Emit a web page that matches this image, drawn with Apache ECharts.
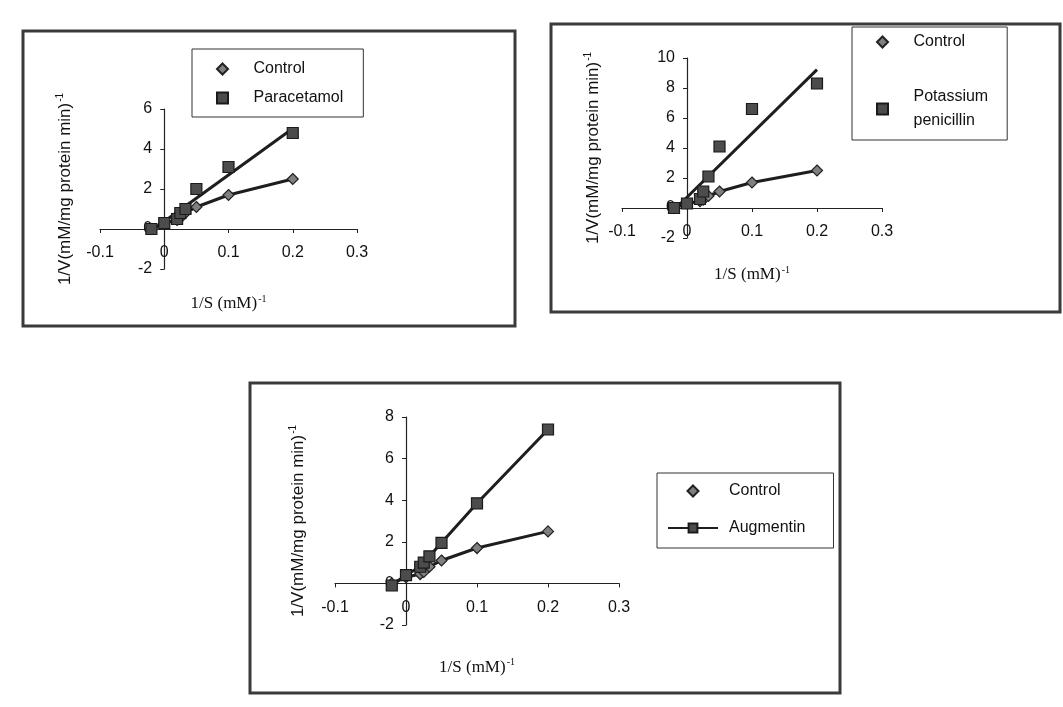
<!DOCTYPE html>
<html>
<head>
<meta charset="utf-8">
<script src="https://cdn.jsdelivr.net/npm/echarts@6/dist/echarts.min.js"></script>
<style>
  html, body { margin: 0; padding: 0; background: #fff; }
  #chart { width: 1063px; height: 707px; }
</style>
</head>
<body>
<div id="chart"></div>
<script>
// 1/S values (mM^-1), shared by every series
var invS = [-0.02, 0, 0.02, 0.025, 0.033, 0.05, 0.1, 0.2];
// 1/V values
var control = [0, 0.3, 0.45, 0.55, 0.8, 1.1, 1.7, 2.5];
var paracetamol = [0, 0.3, 0.5, 0.8, 1.0, 2.0, 3.1, 4.8];
var penicillin = [0, 0.3, 0.6, 1.1, 2.1, 4.1, 6.6, 8.3];
var augmentin = [-0.1, 0.4, 0.8, 1.0, 1.3, 1.95, 3.85, 7.4];

var xTicks = [-0.1, 0.3, 0.1];          // min, max, interval
var yRanges = [[-2, 6], [-2, 10], [-2, 8]];

function pairs(ys) {
  return invS.map(function (x, i) { return [x, ys[i]]; });
}
// least squares trendline over the data range
function trend(ys) {
  var n = invS.length, mx = 0, my = 0, sxx = 0, sxy = 0;
  for (var i = 0; i < n; i++) { mx += invS[i] / n; my += ys[i] / n; }
  for (var j = 0; j < n; j++) {
    sxx += (invS[j] - mx) * (invS[j] - mx);
    sxy += (invS[j] - mx) * (ys[j] - my);
  }
  var b = sxy / sxx, a = my - b * mx;
  var x0 = Math.min.apply(null, invS), x1 = Math.max.apply(null, invS);
  return [[x0, a + b * x0], [x1, a + b * x1]];
}

var grids = [
  { left: 100, top: 109, width: 257, height: 160 },
  { left: 622, top: 58, width: 260, height: 180 },
  { left: 335, top: 417, width: 284, height: 208 }
];
var yGaps = [89, 84, 98];
var xGaps = [65, 57, 74];

var sansFont = 'Liberation Sans';
var serifFont = 'Liberation Serif';

// axes cross at zero: shift each axis from the grid edge to the zero line
var xAxes = grids.map(function (g, i) {
  var yr = yRanges[i];
  return {
    gridIndex: i, type: 'value', min: xTicks[0], max: xTicks[1], interval: xTicks[2],
    offset: -g.height * (0 - yr[0]) / (yr[1] - yr[0]),
    name: '{a|1/S (mM)}{s|-1}', nameLocation: 'middle', nameGap: xGaps[i],
    nameTextStyle: {
      rich: {
        a: { fontFamily: serifFont, fontSize: 17, color: '#111' },
        s: { fontFamily: serifFont, fontSize: 10, color: '#111', padding: [0, 0, 10, 1] }
      }
    },
    axisLine: { onZero: false, lineStyle: { color: '#222', width: 1.2 } },
    axisTick: { length: 4, lineStyle: { color: '#222' } },
    axisLabel: { margin: 16, fontFamily: sansFont, fontSize: 16, color: '#111' },
    splitLine: { show: false }
  };
});
var yAxes = grids.map(function (g, i) {
  return {
    gridIndex: i, type: 'value', min: yRanges[i][0], max: yRanges[i][1], interval: 2,
    offset: -g.width * (0 - xTicks[0]) / (xTicks[1] - xTicks[0]),
    name: '{a|1/V(mM/mg protein min)}{s|-1}', nameLocation: 'middle', nameGap: yGaps[i],
    nameTextStyle: {
      rich: {
        a: { fontFamily: sansFont, fontSize: 17, color: '#111' },
        s: { fontFamily: sansFont, fontSize: 10, color: '#111', padding: [0, 0, 10, 1] }
      }
    },
    axisLine: { onZero: false, lineStyle: { color: '#222', width: 1.2 } },
    axisTick: { length: 4, lineStyle: { color: '#222' } },
    axisLabel: { margin: 12, fontFamily: sansFont, fontSize: 16, color: '#111' },
    splitLine: { show: false }
  };
});

var lineStyle = { color: '#1e1e1e', width: 3 };
var diamondStyle = { color: '#808080', borderColor: '#222', borderWidth: 1.2, opacity: 1 };
var squareStyle = { color: '#4c4c4c', borderColor: '#1a1a1a', borderWidth: 1.2, opacity: 1 };

var diamondIcon = 'path://M5,0L10,5L5,10L0,5Z';
var squareIcon = 'path://M0,0L10,0L10,10L0,10Z';

function controlSeries(i) {
  return {
    name: 'Control', type: 'line', xAxisIndex: i, yAxisIndex: i, data: pairs(control),
    symbol: 'diamond', symbolSize: 11, showAllSymbol: true,
    lineStyle: lineStyle, itemStyle: diamondStyle, z: 3
  };
}
function scatterSeries(name, ys, i) {
  return {
    name: name, type: 'scatter', xAxisIndex: i, yAxisIndex: i, data: pairs(ys),
    symbol: 'rect', symbolSize: 11, itemStyle: squareStyle, z: 4
  };
}
function trendSeries(name, ys, i) {
  return {
    name: name + ' trend', type: 'line', xAxisIndex: i, yAxisIndex: i, data: trend(ys),
    symbol: 'none', lineStyle: lineStyle, z: 2
  };
}

var series = [
  controlSeries(0),
  scatterSeries('Paracetamol', paracetamol, 0),
  trendSeries('Paracetamol', paracetamol, 0),
  controlSeries(1),
  scatterSeries('Potassium penicillin', penicillin, 1),
  trendSeries('Potassium penicillin', penicillin, 1),
  controlSeries(2),
  {
    name: 'Augmentin', type: 'line', xAxisIndex: 2, yAxisIndex: 2, data: pairs(augmentin),
    symbol: 'rect', symbolSize: 11, showAllSymbol: true,
    lineStyle: lineStyle, itemStyle: squareStyle, z: 4
  }
];

var legendBase = {
  orient: 'vertical', backgroundColor: '#fff', borderColor: '#333', borderWidth: 1,
  itemWidth: 12, itemHeight: 11, selectedMode: false, symbolKeepAspect: true,
  textStyle: { fontFamily: sansFont, fontSize: 16, color: '#111', padding: [0, 0, 0, 20] }
};
function legend(extra) {
  var o = {};
  for (var k in legendBase) o[k] = legendBase[k];
  for (var e in extra) o[e] = extra[e];
  return o;
}

var option = {
  animation: false,
  backgroundColor: '#fff',
  grid: grids,
  xAxis: xAxes,
  yAxis: yAxes,
  legend: [
    legend({
      left: 192, top: 49, padding: [12, 20, 11, 24], itemGap: 13,
      data: [{ name: 'Control', icon: diamondIcon }, { name: 'Paracetamol', icon: squareIcon }]
    }),
    legend({
      left: 852, top: 27, padding: [3, 19, 7, 24], itemGap: 31,
      textStyle: { fontFamily: sansFont, fontSize: 16, color: '#111', lineHeight: 24, padding: [0, 0, 0, 20] },
      formatter: function (n) { return n === 'Potassium penicillin' ? 'Potassium\npenicillin' : n; },
      data: [{ name: 'Control', icon: diamondIcon }, { name: 'Potassium penicillin', icon: squareIcon }]
    }),
    legend({
      left: 657, top: 473, padding: [10, 28, 12, 10], itemGap: 21, itemWidth: 50,
      textStyle: { fontFamily: sansFont, fontSize: 16, color: '#111', padding: [0, 0, 0, 6] },
      data: [{ name: 'Control', icon: diamondIcon }, 'Augmentin']
    })
  ],
  graphic: [
    { type: 'rect', shape: { x: 23, y: 31, width: 492, height: 295 },
      style: { fill: 'none', stroke: '#3a3a3a', lineWidth: 3 }, z: -1 },
    { type: 'rect', shape: { x: 551, y: 24, width: 509, height: 288 },
      style: { fill: 'none', stroke: '#3a3a3a', lineWidth: 3 }, z: -1 },
    { type: 'rect', shape: { x: 250, y: 383, width: 590, height: 310 },
      style: { fill: 'none', stroke: '#3a3a3a', lineWidth: 3 }, z: -1 }
  ],
  series: series
};

var myChart = echarts.init(document.getElementById('chart'));
myChart.setOption(option);
</script>
</body>
</html>
